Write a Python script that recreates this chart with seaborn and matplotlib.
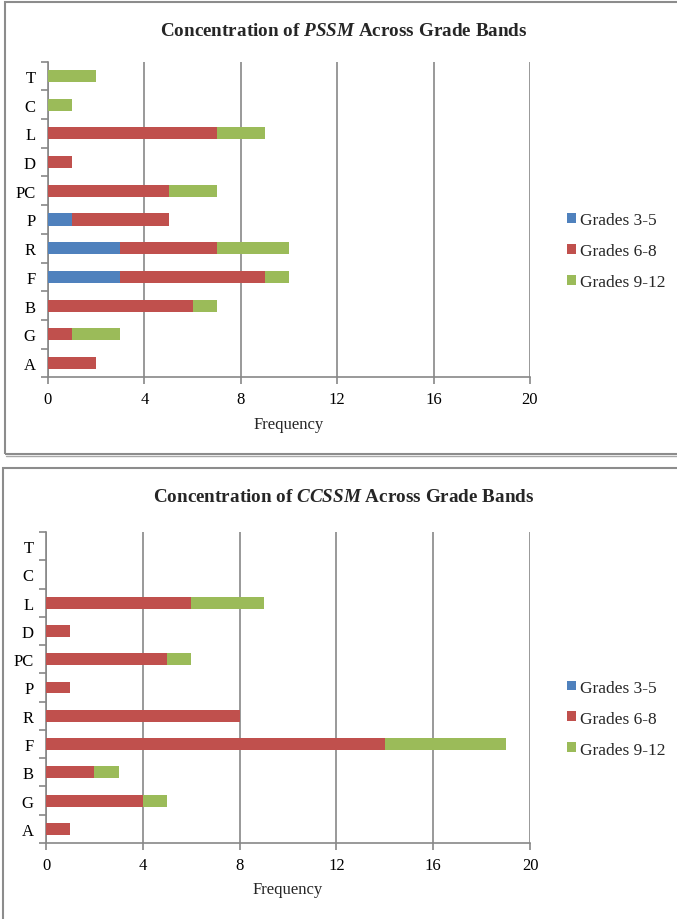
import matplotlib
matplotlib.use("Agg")
import matplotlib.pyplot as plt
from matplotlib.patches import Patch, Rectangle
from matplotlib.lines import Line2D
import numpy as np
import pandas as pd
import seaborn as sns

# Standards clusters, listed top to bottom
categories = ["T", "C", "L", "D", "PC", "P", "R", "F", "B", "G", "A"]

# PSSM frequencies per grade band
pssm_3_5 = [0, 0, 0, 0, 0, 1, 3, 3, 0, 0, 0]
pssm_6_8 = [0, 0, 7, 1, 5, 4, 4, 6, 6, 1, 2]
pssm_9_12 = [2, 1, 2, 0, 2, 0, 3, 1, 1, 2, 0]

# CCSSM frequencies per grade band
ccssm_3_5 = [0, 0, 0, 0, 0, 0, 0, 0, 0, 0, 0]
ccssm_6_8 = [0, 0, 6, 1, 5, 1, 8, 14, 2, 4, 1]
ccssm_9_12 = [0, 0, 3, 0, 1, 0, 0, 5, 1, 1, 0]

bands = ["Grades 3-5", "Grades 6-8", "Grades 9-12"]
band_colors = ["#4F81BD", "#C0504D", "#9BBB59"]
x_ticks = [0, 4, 8, 12, 16, 20]

sns.set_theme(style="white")
plt.rcParams["font.family"] = ["Liberation Serif", "DejaVu Serif"]
plt.rcParams["mathtext.fontset"] = "custom"
plt.rcParams["mathtext.rm"] = "Liberation Serif:bold"
plt.rcParams["mathtext.bf"] = "Liberation Serif:bold"
plt.rcParams["mathtext.it"] = "Liberation Serif:italic:bold"

GRID = "#878787"
FS = 12
LEG_FS = 12.5

fig = plt.figure(figsize=(6.77, 9.2), dpi=100)
W, H = 677, 920


def fx(px):
    return px / W


def fy(py):
    return 1 - py / H


def draw_panel(ax, s1, s2, s3):
    df = pd.DataFrame({"cat": categories, "a": s1, "b": s2, "c": s3})
    df["ab"] = df["a"] + df["b"]
    df["abc"] = df["ab"] + df["c"]
    # stacked bars: cumulative totals drawn back to front
    for col, color in [("abc", band_colors[2]), ("ab", band_colors[1]), ("a", band_colors[0])]:
        sns.barplot(data=df, x=col, y="cat", order=categories, color=color,
                    saturation=1, width=0.42, errorbar=None, linewidth=0,
                    ax=ax, zorder=3)
    ax.set_xlim(0, 20)
    ax.set_ylim(len(categories) - 0.5, -0.5)
    ax.set_xticks(x_ticks)
    ax.set_xticklabels([str(t) for t in x_ticks], fontsize=FS)
    ax.set_yticks(range(len(categories)))
    ax.set_yticklabels(categories, fontsize=FS)
    ax.set_yticks(np.arange(-0.5, len(categories)), minor=True)
    ax.tick_params(axis="y", which="major", length=0, pad=9, colors="black")
    ax.tick_params(axis="y", which="minor", length=5, width=1.2, color=GRID, left=True)
    ax.tick_params(axis="x", which="major", length=5, width=1.2, color=GRID,
                   bottom=True, pad=5, labelcolor="black")
    ax.grid(axis="x", color=GRID, linewidth=1.2, zorder=0)
    ax.grid(axis="y", visible=False)
    for side in ["top", "right"]:
        ax.spines[side].set_visible(False)
    for side in ["left", "bottom"]:
        ax.spines[side].set_color(GRID)
        ax.spines[side].set_linewidth(1.2)
    ax.set_ylabel("")
    ax.set_xlabel("Frequency", fontsize=FS, labelpad=6)
    handles = [Patch(facecolor=c, edgecolor="none") for c in band_colors]
    ax.legend(handles, bands, loc="center left", bbox_to_anchor=(1.062, 0.40),
              frameon=False, fontsize=LEG_FS, handlelength=0.5, handleheight=0.5,
              handletextpad=0.25, labelspacing=0.86, borderaxespad=0)


ax1 = fig.add_axes([fx(48), fy(378.4), fx(530) - fx(48), fy(62.6) - fy(378.4)])
draw_panel(ax1, pssm_3_5, pssm_6_8, pssm_9_12)
ax2 = fig.add_axes([fx(46), fy(844), fx(530) - fx(46), fy(533) - fy(844)])
draw_panel(ax2, ccssm_3_5, ccssm_6_8, ccssm_9_12)

fig.text(fx(344), fy(32), r"Concentration of $\mathit{PSSM}$ Across Grade Bands",
         ha="center", va="center", fontsize=13.8, fontweight="bold")
fig.text(fx(344), fy(497), r"Concentration of $\mathit{CCSSM}$ Across Grade Bands",
         ha="center", va="center", fontsize=13.8, fontweight="bold")

# panel frames
FRAME = "#8c8c8c"
fig.add_artist(Rectangle((fx(4.5), fy(454.5)), fx(700) - fx(4.5), fy(3) - fy(454.5),
                         transform=fig.transFigure, fill=False, edgecolor=FRAME,
                         linewidth=1.5))
fig.add_artist(Line2D([fx(6), fx(700)], [fy(456.5), fy(456.5)],
                      transform=fig.transFigure, color="#a8a8a8", linewidth=1.0))
fig.add_artist(Rectangle((fx(3), fy(940)), fx(700) - fx(3), fy(469) - fy(940),
                         transform=fig.transFigure, fill=False, edgecolor=FRAME,
                         linewidth=1.5))

fig.savefig("out.png", dpi=100)
